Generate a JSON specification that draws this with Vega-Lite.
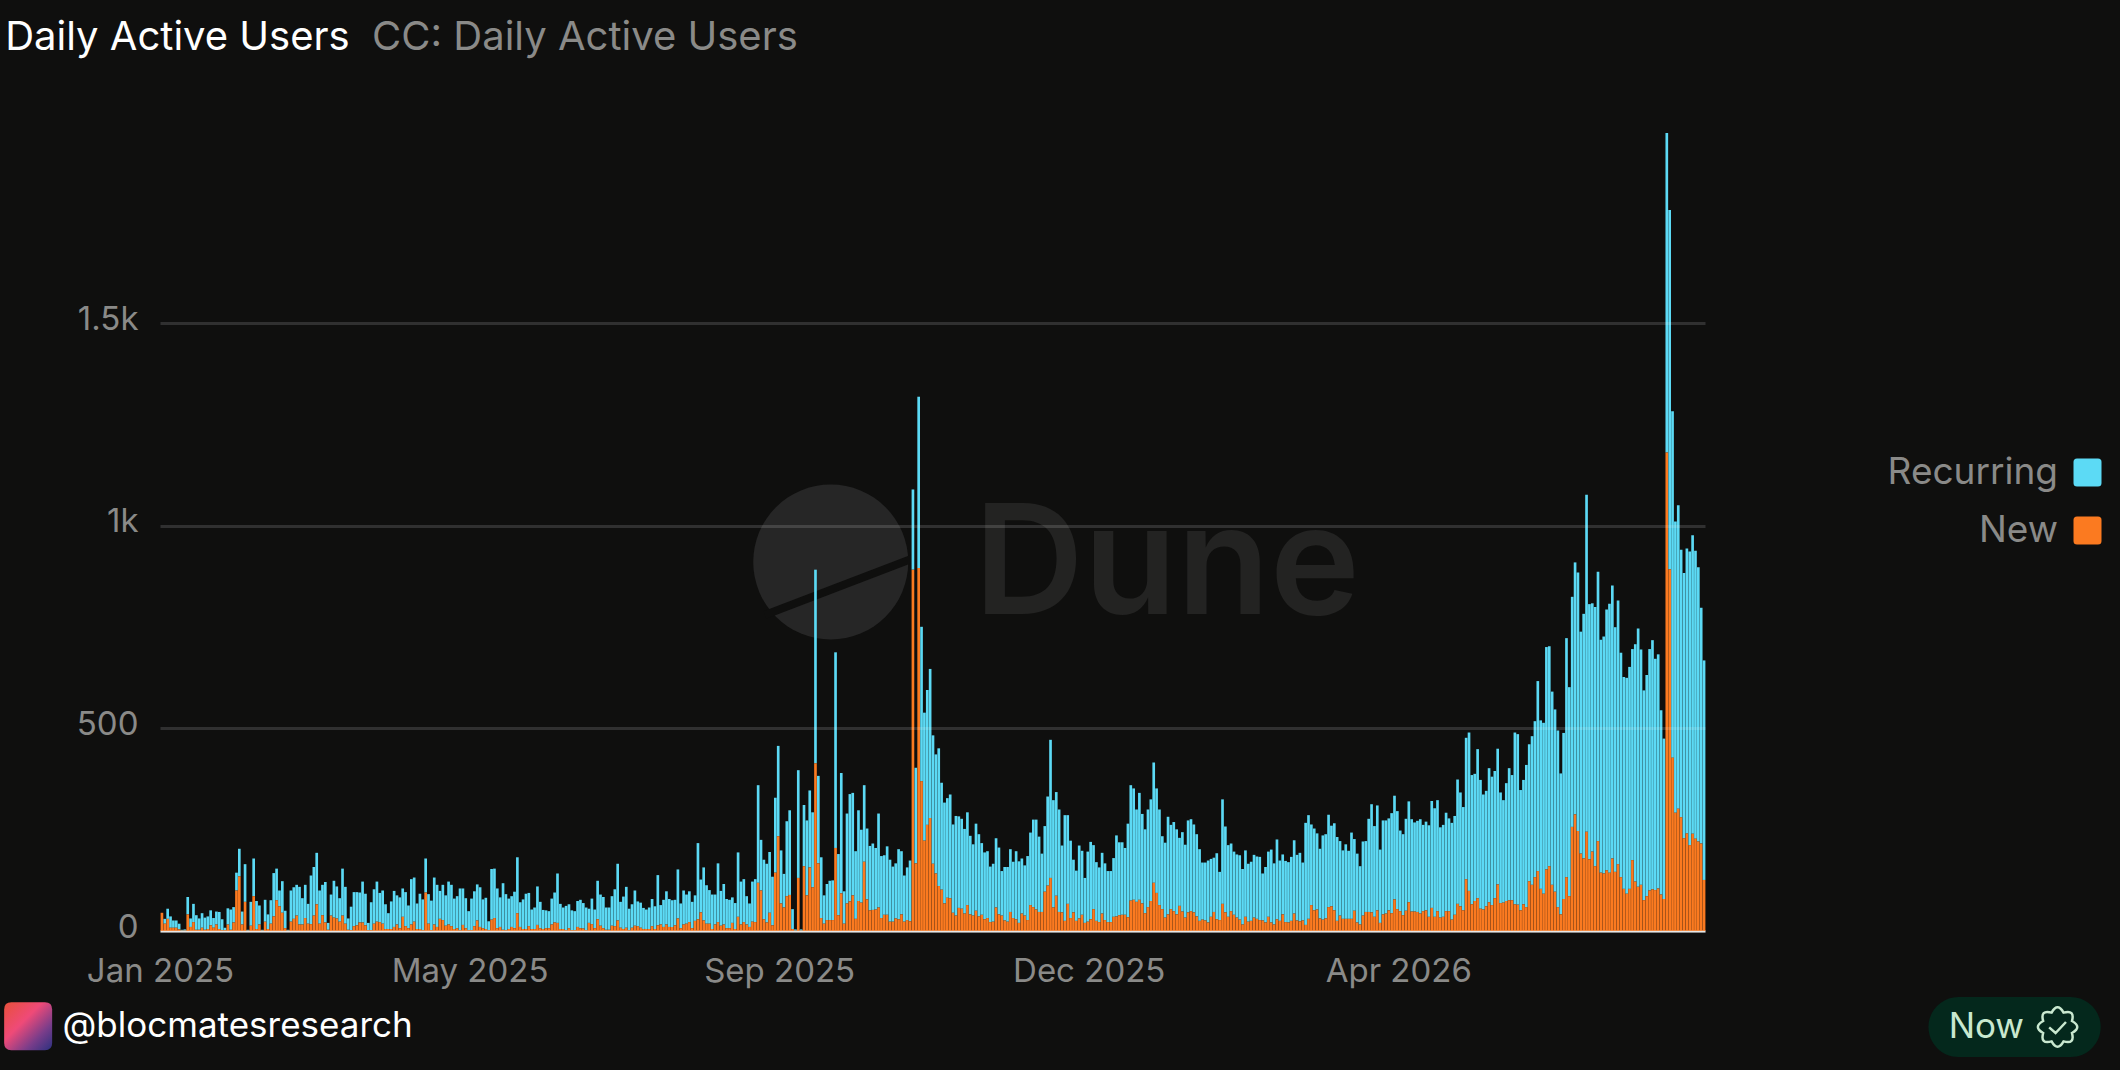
{
  "$schema": "https://vega.github.io/schema/vega-lite/v6.json",
  "width": 1545,
  "height": 800,
  "autosize": {"type": "none"},
  "padding": {"left": 160, "top": 131, "right": 415, "bottom": 139},
  "background": "#0f0f0e",
  "config": {"view": {"stroke": null}, "font": "Inter"},
  "datasets": {
    "daily": [
{"day":"2025-01-28","New":45,"Recurring":0},{"day":"2025-01-29","New":18,"Recurring":12},{"day":"2025-01-30","New":30,"Recurring":25},{"day":"2025-01-31","New":8,"Recurring":28},
{"day":"2025-02-01","New":8,"Recurring":18},{"day":"2025-02-02","New":8,"Recurring":18},{"day":"2025-02-03","New":4,"Recurring":14},{"day":"2025-02-04","New":1,"Recurring":2},{"day":"2025-02-05","New":1,"Recurring":3},{"day":"2025-02-06","New":41,"Recurring":43},{"day":"2025-02-07","New":10,"Recurring":21},{"day":"2025-02-08","New":22,"Recurring":45},{"day":"2025-02-09","New":3,"Recurring":36},{"day":"2025-02-10","New":3,"Recurring":28},{"day":"2025-02-11","New":8,"Recurring":36},{"day":"2025-02-12","New":3,"Recurring":30},{"day":"2025-02-13","New":5,"Recurring":31},{"day":"2025-02-14","New":14,"Recurring":37},{"day":"2025-02-15","New":8,"Recurring":24},{"day":"2025-02-16","New":16,"Recurring":32},{"day":"2025-02-17","New":5,"Recurring":42},{"day":"2025-02-18","New":2,"Recurring":27},{"day":"2025-02-19","New":2,"Recurring":6},{"day":"2025-02-20","New":16,"Recurring":40},{"day":"2025-02-21","New":3,"Recurring":50},{"day":"2025-02-22","New":21,"Recurring":38},{"day":"2025-02-23","New":100,"Recurring":44},{"day":"2025-02-24","New":135,"Recurring":68},{"day":"2025-02-25","New":16,"Recurring":32},{"day":"2025-02-26","New":72,"Recurring":93},{"day":"2025-02-27","New":1,"Recurring":2},{"day":"2025-02-28","New":13,"Recurring":59},
{"day":"2025-03-01","New":86,"Recurring":93},{"day":"2025-03-02","New":5,"Recurring":69},{"day":"2025-03-03","New":16,"Recurring":47},{"day":"2025-03-04","New":1,"Recurring":2},{"day":"2025-03-05","New":23,"Recurring":54},{"day":"2025-03-06","New":5,"Recurring":36},{"day":"2025-03-07","New":18,"Recurring":58},{"day":"2025-03-08","New":36,"Recurring":107},{"day":"2025-03-09","New":76,"Recurring":78},{"day":"2025-03-10","New":61,"Recurring":39},{"day":"2025-03-11","New":45,"Recurring":78},{"day":"2025-03-12","New":7,"Recurring":43},{"day":"2025-03-13","New":1,"Recurring":2},{"day":"2025-03-14","New":23,"Recurring":77},{"day":"2025-03-15","New":30,"Recurring":78},{"day":"2025-03-16","New":38,"Recurring":76},{"day":"2025-03-17","New":16,"Recurring":93},{"day":"2025-03-18","New":16,"Recurring":65},{"day":"2025-03-19","New":32,"Recurring":82},{"day":"2025-03-20","New":18,"Recurring":49},{"day":"2025-03-21","New":17,"Recurring":120},{"day":"2025-03-22","New":38,"Recurring":120},{"day":"2025-03-23","New":66,"Recurring":127},{"day":"2025-03-24","New":18,"Recurring":82},{"day":"2025-03-25","New":39,"Recurring":75},{"day":"2025-03-26","New":21,"Recurring":100},{"day":"2025-03-27","New":3,"Recurring":17},{"day":"2025-03-28","New":38,"Recurring":52},{"day":"2025-03-29","New":33,"Recurring":91},{"day":"2025-03-30","New":31,"Recurring":79},{"day":"2025-03-31","New":23,"Recurring":58},
{"day":"2025-04-01","New":38,"Recurring":116},{"day":"2025-04-02","New":18,"Recurring":91},{"day":"2025-04-03","New":3,"Recurring":28},{"day":"2025-04-04","New":2,"Recurring":58},{"day":"2025-04-05","New":12,"Recurring":84},{"day":"2025-04-06","New":14,"Recurring":82},{"day":"2025-04-07","New":21,"Recurring":74},{"day":"2025-04-08","New":21,"Recurring":101},{"day":"2025-04-09","New":14,"Recurring":78},{"day":"2025-04-10","New":2,"Recurring":18},{"day":"2025-04-11","New":2,"Recurring":69},{"day":"2025-04-12","New":18,"Recurring":85},{"day":"2025-04-13","New":23,"Recurring":99},{"day":"2025-04-14","New":22,"Recurring":72},{"day":"2025-04-15","New":18,"Recurring":82},{"day":"2025-04-16","New":5,"Recurring":61},{"day":"2025-04-17","New":5,"Recurring":39},{"day":"2025-04-18","New":5,"Recurring":68},{"day":"2025-04-19","New":10,"Recurring":89},{"day":"2025-04-20","New":16,"Recurring":72},{"day":"2025-04-21","New":7,"Recurring":76},{"day":"2025-04-22","New":35,"Recurring":70},{"day":"2025-04-23","New":12,"Recurring":84},{"day":"2025-04-24","New":7,"Recurring":56},{"day":"2025-04-25","New":16,"Recurring":112},{"day":"2025-04-26","New":23,"Recurring":109},{"day":"2025-04-27","New":5,"Recurring":63},{"day":"2025-04-28","New":5,"Recurring":87},{"day":"2025-04-29","New":2,"Recurring":76},{"day":"2025-04-30","New":95,"Recurring":84},
{"day":"2025-05-01","New":18,"Recurring":73},{"day":"2025-05-02","New":2,"Recurring":73},{"day":"2025-05-03","New":16,"Recurring":116},{"day":"2025-05-04","New":10,"Recurring":104},{"day":"2025-05-05","New":30,"Recurring":69},{"day":"2025-05-06","New":27,"Recurring":87},{"day":"2025-05-07","New":13,"Recurring":75},{"day":"2025-05-08","New":16,"Recurring":106},{"day":"2025-05-09","New":12,"Recurring":102},{"day":"2025-05-10","New":5,"Recurring":75},{"day":"2025-05-11","New":7,"Recurring":79},{"day":"2025-05-12","New":2,"Recurring":103},{"day":"2025-05-13","New":15,"Recurring":90},{"day":"2025-05-14","New":7,"Recurring":74},{"day":"2025-05-15","New":2,"Recurring":47},{"day":"2025-05-16","New":2,"Recurring":78},{"day":"2025-05-17","New":12,"Recurring":86},{"day":"2025-05-18","New":26,"Recurring":89},{"day":"2025-05-19","New":10,"Recurring":98},{"day":"2025-05-20","New":7,"Recurring":71},{"day":"2025-05-21","New":5,"Recurring":77},{"day":"2025-05-22","New":2,"Recurring":22},{"day":"2025-05-23","New":28,"Recurring":125},{"day":"2025-05-24","New":32,"Recurring":122},{"day":"2025-05-25","New":7,"Recurring":98},{"day":"2025-05-26","New":10,"Recurring":73},{"day":"2025-05-27","New":3,"Recurring":115},{"day":"2025-05-28","New":2,"Recurring":89},{"day":"2025-05-29","New":5,"Recurring":75},{"day":"2025-05-30","New":10,"Recurring":76},{"day":"2025-05-31","New":7,"Recurring":90},
{"day":"2025-06-01","New":44,"Recurring":138},{"day":"2025-06-02","New":10,"Recurring":61},{"day":"2025-06-03","New":5,"Recurring":73},{"day":"2025-06-04","New":5,"Recurring":87},{"day":"2025-06-05","New":12,"Recurring":82},{"day":"2025-06-06","New":5,"Recurring":48},{"day":"2025-06-07","New":5,"Recurring":53},{"day":"2025-06-08","New":15,"Recurring":95},{"day":"2025-06-09","New":7,"Recurring":65},{"day":"2025-06-10","New":5,"Recurring":47},{"day":"2025-06-11","New":7,"Recurring":44},{"day":"2025-06-12","New":7,"Recurring":42},{"day":"2025-06-13","New":16,"Recurring":64},{"day":"2025-06-14","New":21,"Recurring":74},{"day":"2025-06-15","New":20,"Recurring":122},{"day":"2025-06-16","New":5,"Recurring":62},{"day":"2025-06-17","New":5,"Recurring":53},{"day":"2025-06-18","New":2,"Recurring":60},{"day":"2025-06-19","New":7,"Recurring":59},{"day":"2025-06-20","New":2,"Recurring":49},{"day":"2025-06-21","New":2,"Recurring":47},{"day":"2025-06-22","New":10,"Recurring":64},{"day":"2025-06-23","New":7,"Recurring":70},{"day":"2025-06-24","New":6,"Recurring":63},{"day":"2025-06-25","New":2,"Recurring":56},{"day":"2025-06-26","New":20,"Recurring":35},{"day":"2025-06-27","New":17,"Recurring":63},{"day":"2025-06-28","New":7,"Recurring":46},{"day":"2025-06-29","New":29,"Recurring":95},{"day":"2025-06-30","New":13,"Recurring":77},
{"day":"2025-07-01","New":7,"Recurring":77},{"day":"2025-07-02","New":3,"Recurring":55},{"day":"2025-07-03","New":3,"Recurring":55},{"day":"2025-07-04","New":13,"Recurring":73},{"day":"2025-07-05","New":12,"Recurring":91},{"day":"2025-07-06","New":26,"Recurring":140},{"day":"2025-07-07","New":8,"Recurring":64},{"day":"2025-07-08","New":5,"Recurring":80},{"day":"2025-07-09","New":8,"Recurring":101},{"day":"2025-07-10","New":2,"Recurring":53},{"day":"2025-07-11","New":8,"Recurring":58},{"day":"2025-07-12","New":13,"Recurring":87},{"day":"2025-07-13","New":12,"Recurring":61},{"day":"2025-07-14","New":8,"Recurring":62},{"day":"2025-07-15","New":5,"Recurring":52},{"day":"2025-07-16","New":5,"Recurring":48},{"day":"2025-07-17","New":5,"Recurring":53},{"day":"2025-07-18","New":12,"Recurring":67},{"day":"2025-07-19","New":5,"Recurring":56},{"day":"2025-07-20","New":14,"Recurring":124},{"day":"2025-07-21","New":16,"Recurring":48},{"day":"2025-07-22","New":10,"Recurring":67},{"day":"2025-07-23","New":16,"Recurring":82},{"day":"2025-07-24","New":10,"Recurring":69},{"day":"2025-07-25","New":10,"Recurring":66},{"day":"2025-07-26","New":14,"Recurring":63},{"day":"2025-07-27","New":31,"Recurring":121},{"day":"2025-07-28","New":7,"Recurring":61},{"day":"2025-07-29","New":16,"Recurring":84},{"day":"2025-07-30","New":18,"Recurring":72},{"day":"2025-07-31","New":22,"Recurring":76},
{"day":"2025-08-01","New":7,"Recurring":65},{"day":"2025-08-02","New":25,"Recurring":63},{"day":"2025-08-03","New":29,"Recurring":188},{"day":"2025-08-04","New":46,"Recurring":81},{"day":"2025-08-05","New":26,"Recurring":131},{"day":"2025-08-06","New":18,"Recurring":95},{"day":"2025-08-07","New":18,"Recurring":83},{"day":"2025-08-08","New":5,"Recurring":85},{"day":"2025-08-09","New":16,"Recurring":74},{"day":"2025-08-10","New":22,"Recurring":145},{"day":"2025-08-11","New":13,"Recurring":86},{"day":"2025-08-12","New":16,"Recurring":100},{"day":"2025-08-13","New":7,"Recurring":72},{"day":"2025-08-14","New":7,"Recurring":70},{"day":"2025-08-15","New":20,"Recurring":63},{"day":"2025-08-16","New":5,"Recurring":64},{"day":"2025-08-17","New":35,"Recurring":159},{"day":"2025-08-18","New":16,"Recurring":106},{"day":"2025-08-19","New":22,"Recurring":106},{"day":"2025-08-20","New":16,"Recurring":70},{"day":"2025-08-21","New":10,"Recurring":58},{"day":"2025-08-22","New":23,"Recurring":99},{"day":"2025-08-23","New":22,"Recurring":106},{"day":"2025-08-24","New":119,"Recurring":241},{"day":"2025-08-25","New":100,"Recurring":125},{"day":"2025-08-26","New":29,"Recurring":147},{"day":"2025-08-27","New":21,"Recurring":145},{"day":"2025-08-28","New":45,"Recurring":150},{"day":"2025-08-29","New":14,"Recurring":120},{"day":"2025-08-30","New":144,"Recurring":185},{"day":"2025-08-31","New":234,"Recurring":223},
{"day":"2025-09-01","New":68,"Recurring":131},{"day":"2025-09-02","New":58,"Recurring":83},{"day":"2025-09-03","New":86,"Recurring":185},{"day":"2025-09-04","New":89,"Recurring":209},{"day":"2025-09-05","New":5,"Recurring":49},{"day":"2025-09-06","New":1,"Recurring":3},{"day":"2025-09-07","New":131,"Recurring":266},{"day":"2025-09-08","New":1,"Recurring":3},{"day":"2025-09-09","New":160,"Recurring":151},{"day":"2025-09-10","New":88,"Recurring":185},{"day":"2025-09-11","New":157,"Recurring":190},{"day":"2025-09-12","New":108,"Recurring":185},{"day":"2025-09-13","New":414,"Recurring":478},{"day":"2025-09-14","New":167,"Recurring":216},{"day":"2025-09-15","New":32,"Recurring":150},{"day":"2025-09-16","New":18,"Recurring":70},{"day":"2025-09-17","New":27,"Recurring":89},{"day":"2025-09-18","New":27,"Recurring":97},{"day":"2025-09-19","New":27,"Recurring":98},{"day":"2025-09-20","New":205,"Recurring":483},{"day":"2025-09-21","New":39,"Recurring":151},{"day":"2025-09-22","New":93,"Recurring":297},{"day":"2025-09-23","New":18,"Recurring":80},{"day":"2025-09-24","New":68,"Recurring":222},{"day":"2025-09-25","New":73,"Recurring":265},{"day":"2025-09-26","New":88,"Recurring":253},{"day":"2025-09-27","New":30,"Recurring":167},{"day":"2025-09-28","New":74,"Recurring":224},{"day":"2025-09-29","New":70,"Recurring":180},{"day":"2025-09-30","New":171,"Recurring":189},
{"day":"2025-10-01","New":78,"Recurring":175},{"day":"2025-10-02","New":51,"Recurring":159},{"day":"2025-10-03","New":52,"Recurring":164},{"day":"2025-10-04","New":53,"Recurring":152},{"day":"2025-10-05","New":58,"Recurring":232},{"day":"2025-10-06","New":32,"Recurring":153},{"day":"2025-10-07","New":40,"Recurring":147},{"day":"2025-10-08","New":40,"Recurring":169},{"day":"2025-10-09","New":23,"Recurring":153},{"day":"2025-10-10","New":23,"Recurring":136},{"day":"2025-10-11","New":31,"Recurring":136},{"day":"2025-10-12","New":29,"Recurring":173},{"day":"2025-10-13","New":41,"Recurring":156},{"day":"2025-10-14","New":23,"Recurring":114},{"day":"2025-10-15","New":27,"Recurring":130},{"day":"2025-10-16","New":24,"Recurring":150},{"day":"2025-10-17","New":892,"Recurring":198},{"day":"2025-10-18","New":167,"Recurring":236},{"day":"2025-10-19","New":896,"Recurring":423},{"day":"2025-10-20","New":370,"Recurring":381},{"day":"2025-10-21","New":223,"Recurring":316},{"day":"2025-10-22","New":262,"Recurring":333},{"day":"2025-10-23","New":279,"Recurring":368},{"day":"2025-10-24","New":166,"Recurring":317},{"day":"2025-10-25","New":142,"Recurring":294},{"day":"2025-10-26","New":111,"Recurring":340},{"day":"2025-10-27","New":102,"Recurring":264},{"day":"2025-10-28","New":68,"Recurring":249},{"day":"2025-10-29","New":82,"Recurring":246},{"day":"2025-10-30","New":81,"Recurring":256},{"day":"2025-10-31","New":45,"Recurring":218},
{"day":"2025-11-01","New":38,"Recurring":246},{"day":"2025-11-02","New":57,"Recurring":226},{"day":"2025-11-03","New":55,"Recurring":222},{"day":"2025-11-04","New":43,"Recurring":209},{"day":"2025-11-05","New":64,"Recurring":229},{"day":"2025-11-06","New":41,"Recurring":194},{"day":"2025-11-07","New":38,"Recurring":176},{"day":"2025-11-08","New":50,"Recurring":215},{"day":"2025-11-09","New":36,"Recurring":203},{"day":"2025-11-10","New":40,"Recurring":177},{"day":"2025-11-11","New":29,"Recurring":165},{"day":"2025-11-12","New":32,"Recurring":165},{"day":"2025-11-13","New":22,"Recurring":137},{"day":"2025-11-14","New":23,"Recurring":143},{"day":"2025-11-15","New":58,"Recurring":171},{"day":"2025-11-16","New":41,"Recurring":165},{"day":"2025-11-17","New":38,"Recurring":110},{"day":"2025-11-18","New":26,"Recurring":132},{"day":"2025-11-19","New":23,"Recurring":135},{"day":"2025-11-20","New":47,"Recurring":155},{"day":"2025-11-21","New":32,"Recurring":139},{"day":"2025-11-22","New":29,"Recurring":168},{"day":"2025-11-23","New":20,"Recurring":152},{"day":"2025-11-24","New":43,"Recurring":136},{"day":"2025-11-25","New":38,"Recurring":124},{"day":"2025-11-26","New":27,"Recurring":158},{"day":"2025-11-27","New":64,"Recurring":179},{"day":"2025-11-28","New":59,"Recurring":216},{"day":"2025-11-29","New":53,"Recurring":222},{"day":"2025-11-30","New":47,"Recurring":186},
{"day":"2025-12-01","New":47,"Recurring":144},{"day":"2025-12-02","New":97,"Recurring":162},{"day":"2025-12-03","New":112,"Recurring":220},{"day":"2025-12-04","New":131,"Recurring":341},{"day":"2025-12-05","New":58,"Recurring":265},{"day":"2025-12-06","New":87,"Recurring":256},{"day":"2025-12-07","New":47,"Recurring":253},{"day":"2025-12-08","New":46,"Recurring":165},{"day":"2025-12-09","New":25,"Recurring":261},{"day":"2025-12-10","New":67,"Recurring":219},{"day":"2025-12-11","New":32,"Recurring":191},{"day":"2025-12-12","New":46,"Recurring":130},{"day":"2025-12-13","New":25,"Recurring":124},{"day":"2025-12-14","New":31,"Recurring":180},{"day":"2025-12-15","New":40,"Recurring":158},{"day":"2025-12-16","New":20,"Recurring":111},{"day":"2025-12-17","New":23,"Recurring":173},{"day":"2025-12-18","New":29,"Recurring":191},{"day":"2025-12-19","New":54,"Recurring":158},{"day":"2025-12-20","New":25,"Recurring":145},{"day":"2025-12-21","New":22,"Recurring":135},{"day":"2025-12-22","New":43,"Recurring":150},{"day":"2025-12-23","New":27,"Recurring":140},{"day":"2025-12-24","New":22,"Recurring":126},{"day":"2025-12-25","New":22,"Recurring":126},{"day":"2025-12-26","New":35,"Recurring":145},{"day":"2025-12-27","New":36,"Recurring":200},{"day":"2025-12-28","New":39,"Recurring":180},{"day":"2025-12-29","New":40,"Recurring":179},{"day":"2025-12-30","New":40,"Recurring":165},{"day":"2025-12-31","New":34,"Recurring":231},
{"day":"2026-01-01","New":75,"Recurring":285},{"day":"2026-01-02","New":77,"Recurring":275},{"day":"2026-01-03","New":72,"Recurring":228},{"day":"2026-01-04","New":77,"Recurring":264},{"day":"2026-01-05","New":68,"Recurring":221},{"day":"2026-01-06","New":44,"Recurring":207},{"day":"2026-01-07","New":59,"Recurring":241},{"day":"2026-01-08","New":74,"Recurring":251},{"day":"2026-01-09","New":119,"Recurring":297},{"day":"2026-01-10","New":94,"Recurring":258},{"day":"2026-01-11","New":64,"Recurring":236},{"day":"2026-01-12","New":54,"Recurring":180},{"day":"2026-01-13","New":33,"Recurring":185},{"day":"2026-01-14","New":41,"Recurring":241},{"day":"2026-01-15","New":54,"Recurring":208},{"day":"2026-01-16","New":49,"Recurring":220},{"day":"2026-01-17","New":41,"Recurring":210},{"day":"2026-01-18","New":62,"Recurring":168},{"day":"2026-01-19","New":48,"Recurring":196},{"day":"2026-01-20","New":33,"Recurring":180},{"day":"2026-01-21","New":46,"Recurring":227},{"day":"2026-01-22","New":49,"Recurring":227},{"day":"2026-01-23","New":46,"Recurring":217},{"day":"2026-01-24","New":36,"Recurring":203},{"day":"2026-01-25","New":25,"Recurring":177},{"day":"2026-01-26","New":28,"Recurring":141},{"day":"2026-01-27","New":26,"Recurring":143},{"day":"2026-01-28","New":21,"Recurring":153},{"day":"2026-01-29","New":35,"Recurring":143},{"day":"2026-01-30","New":47,"Recurring":134},{"day":"2026-01-31","New":29,"Recurring":163},
{"day":"2026-02-01","New":27,"Recurring":119},{"day":"2026-02-02","New":67,"Recurring":258},{"day":"2026-02-03","New":46,"Recurring":212},{"day":"2026-02-04","New":35,"Recurring":177},{"day":"2026-02-05","New":49,"Recurring":167},{"day":"2026-02-06","New":40,"Recurring":156},{"day":"2026-02-07","New":33,"Recurring":156},{"day":"2026-02-08","New":28,"Recurring":159},{"day":"2026-02-09","New":16,"Recurring":137},{"day":"2026-02-10","New":35,"Recurring":164},{"day":"2026-02-11","New":23,"Recurring":143},{"day":"2026-02-12","New":25,"Recurring":146},{"day":"2026-02-13","New":33,"Recurring":155},{"day":"2026-02-14","New":30,"Recurring":154},{"day":"2026-02-15","New":27,"Recurring":156},{"day":"2026-02-16","New":26,"Recurring":116},{"day":"2026-02-17","New":21,"Recurring":137},{"day":"2026-02-18","New":35,"Recurring":161},{"day":"2026-02-19","New":21,"Recurring":180},{"day":"2026-02-20","New":16,"Recurring":151},{"day":"2026-02-21","New":29,"Recurring":197},{"day":"2026-02-22","New":25,"Recurring":149},{"day":"2026-02-23","New":41,"Recurring":148},{"day":"2026-02-24","New":22,"Recurring":151},{"day":"2026-02-25","New":21,"Recurring":149},{"day":"2026-02-26","New":25,"Recurring":158},{"day":"2026-02-27","New":43,"Recurring":181},{"day":"2026-02-28","New":26,"Recurring":162},
{"day":"2026-03-01","New":24,"Recurring":169},{"day":"2026-03-02","New":26,"Recurring":143},{"day":"2026-03-03","New":15,"Recurring":252},{"day":"2026-03-04","New":30,"Recurring":256},{"day":"2026-03-05","New":64,"Recurring":199},{"day":"2026-03-06","New":51,"Recurring":202},{"day":"2026-03-07","New":53,"Recurring":188},{"day":"2026-03-08","New":31,"Recurring":172},{"day":"2026-03-09","New":28,"Recurring":208},{"day":"2026-03-10","New":31,"Recurring":208},{"day":"2026-03-11","New":59,"Recurring":228},{"day":"2026-03-12","New":61,"Recurring":199},{"day":"2026-03-13","New":51,"Recurring":215},{"day":"2026-03-14","New":25,"Recurring":207},{"day":"2026-03-15","New":38,"Recurring":184},{"day":"2026-03-16","New":30,"Recurring":169},{"day":"2026-03-17","New":30,"Recurring":184},{"day":"2026-03-18","New":30,"Recurring":168},{"day":"2026-03-19","New":30,"Recurring":213},{"day":"2026-03-20","New":50,"Recurring":177},{"day":"2026-03-21","New":21,"Recurring":170},{"day":"2026-03-22","New":16,"Recurring":144},{"day":"2026-03-23","New":38,"Recurring":183},{"day":"2026-03-24","New":47,"Recurring":175},{"day":"2026-03-25","New":47,"Recurring":230},{"day":"2026-03-26","New":46,"Recurring":267},{"day":"2026-03-27","New":35,"Recurring":224},{"day":"2026-03-28","New":51,"Recurring":259},{"day":"2026-03-29","New":20,"Recurring":181},{"day":"2026-03-30","New":41,"Recurring":232},{"day":"2026-03-31","New":43,"Recurring":230},
{"day":"2026-04-01","New":51,"Recurring":227},{"day":"2026-04-02","New":44,"Recurring":247},{"day":"2026-04-03","New":78,"Recurring":256},{"day":"2026-04-04","New":54,"Recurring":242},{"day":"2026-04-05","New":49,"Recurring":199},{"day":"2026-04-06","New":39,"Recurring":200},{"day":"2026-04-07","New":50,"Recurring":227},{"day":"2026-04-08","New":71,"Recurring":249},{"day":"2026-04-09","New":48,"Recurring":228},{"day":"2026-04-10","New":48,"Recurring":220},{"day":"2026-04-11","New":47,"Recurring":225},{"day":"2026-04-12","New":43,"Recurring":233},{"day":"2026-04-13","New":49,"Recurring":213},{"day":"2026-04-14","New":51,"Recurring":219},{"day":"2026-04-15","New":35,"Recurring":226},{"day":"2026-04-16","New":57,"Recurring":264},{"day":"2026-04-17","New":35,"Recurring":268},{"day":"2026-04-18","New":49,"Recurring":274},{"day":"2026-04-19","New":33,"Recurring":223},{"day":"2026-04-20","New":35,"Recurring":227},{"day":"2026-04-21","New":49,"Recurring":243},{"day":"2026-04-22","New":49,"Recurring":229},{"day":"2026-04-23","New":28,"Recurring":239},{"day":"2026-04-24","New":40,"Recurring":244},{"day":"2026-04-25","New":67,"Recurring":307},{"day":"2026-04-26","New":61,"Recurring":281},{"day":"2026-04-27","New":51,"Recurring":255},{"day":"2026-04-28","New":128,"Recurring":349},{"day":"2026-04-29","New":99,"Recurring":391},{"day":"2026-04-30","New":66,"Recurring":319},
{"day":"2026-05-01","New":74,"Recurring":314},{"day":"2026-05-02","New":81,"Recurring":368},{"day":"2026-05-03","New":55,"Recurring":318},{"day":"2026-05-04","New":53,"Recurring":284},{"day":"2026-05-05","New":61,"Recurring":285},{"day":"2026-05-06","New":71,"Recurring":331},{"day":"2026-05-07","New":64,"Recurring":317},{"day":"2026-05-08","New":81,"Recurring":314},{"day":"2026-05-09","New":115,"Recurring":335},{"day":"2026-05-10","New":69,"Recurring":273},{"day":"2026-05-11","New":70,"Recurring":253},{"day":"2026-05-12","New":74,"Recurring":291},{"day":"2026-05-13","New":76,"Recurring":326},{"day":"2026-05-14","New":76,"Recurring":309},{"day":"2026-05-15","New":66,"Recurring":424},{"day":"2026-05-16","New":65,"Recurring":421},{"day":"2026-05-17","New":51,"Recurring":297},{"day":"2026-05-18","New":66,"Recurring":307},{"day":"2026-05-19","New":59,"Recurring":351},{"day":"2026-05-20","New":123,"Recurring":338},{"day":"2026-05-21","New":114,"Recurring":367},{"day":"2026-05-22","New":133,"Recurring":385},{"day":"2026-05-23","New":148,"Recurring":469},{"day":"2026-05-24","New":104,"Recurring":416},{"day":"2026-05-25","New":92,"Recurring":422},{"day":"2026-05-26","New":152,"Recurring":549},{"day":"2026-05-27","New":160,"Recurring":543},{"day":"2026-05-28","New":114,"Recurring":477},{"day":"2026-05-29","New":97,"Recurring":450},{"day":"2026-05-30","New":59,"Recurring":436},{"day":"2026-05-31","New":41,"Recurring":348},
{"day":"2026-06-01","New":79,"Recurring":410},{"day":"2026-06-02","New":133,"Recurring":590},{"day":"2026-06-03","New":86,"Recurring":516},{"day":"2026-06-04","New":257,"Recurring":568},{"day":"2026-06-05","New":288,"Recurring":622},{"day":"2026-06-06","New":247,"Recurring":638},{"day":"2026-06-07","New":191,"Recurring":548},{"day":"2026-06-08","New":179,"Recurring":604},{"day":"2026-06-09","New":245,"Recurring":832},{"day":"2026-06-10","New":177,"Recurring":630},{"day":"2026-06-11","New":196,"Recurring":613},{"day":"2026-06-12","New":160,"Recurring":640},{"day":"2026-06-13","New":222,"Recurring":665},{"day":"2026-06-14","New":144,"Recurring":575},{"day":"2026-06-15","New":142,"Recurring":585},{"day":"2026-06-16","New":150,"Recurring":644},{"day":"2026-06-17","New":144,"Recurring":664},{"day":"2026-06-18","New":179,"Recurring":674},{"day":"2026-06-19","New":146,"Recurring":604},{"day":"2026-06-20","New":165,"Recurring":651},{"day":"2026-06-21","New":133,"Recurring":554},{"day":"2026-06-22","New":104,"Recurring":523},{"day":"2026-06-23","New":92,"Recurring":533},{"day":"2026-06-24","New":104,"Recurring":548},{"day":"2026-06-25","New":175,"Recurring":521},{"day":"2026-06-26","New":122,"Recurring":586},{"day":"2026-06-27","New":109,"Recurring":638},{"day":"2026-06-28","New":114,"Recurring":581},{"day":"2026-06-29","New":76,"Recurring":518},{"day":"2026-06-30","New":86,"Recurring":546},
{"day":"2026-07-01","New":100,"Recurring":596},{"day":"2026-07-02","New":103,"Recurring":615},{"day":"2026-07-03","New":101,"Recurring":571},{"day":"2026-07-04","New":105,"Recurring":578},{"day":"2026-07-05","New":90,"Recurring":455},{"day":"2026-07-06","New":79,"Recurring":396},{"day":"2026-07-07","New":1181,"Recurring":789},{"day":"2026-07-08","New":893,"Recurring":887},{"day":"2026-07-09","New":428,"Recurring":855},{"day":"2026-07-10","New":292,"Recurring":719},{"day":"2026-07-11","New":302,"Recurring":749},{"day":"2026-07-12","New":281,"Recurring":660},{"day":"2026-07-13","New":229,"Recurring":655},{"day":"2026-07-14","New":241,"Recurring":703},{"day":"2026-07-15","New":212,"Recurring":725},{"day":"2026-07-16","New":240,"Recurring":737},{"day":"2026-07-17","New":228,"Recurring":711},{"day":"2026-07-18","New":221,"Recurring":677},{"day":"2026-07-19","New":216,"Recurring":582},{"day":"2026-07-20","New":126,"Recurring":542}
    ]
  },
  "data": {"name": "daily"},
  "layer": [
    {
      "data": {"values": [{"day": "2025-09-19", "users": 911}]},
      "mark": {"type": "point", "filled": true, "shape": "circle", "size": 24025, "color": "#262626", "opacity": 1},
      "encoding": {"x": {"field": "day", "type": "temporal"}, "y": {"field": "users", "type": "quantitative"}}
    },
    {
      "data": {"values": [{"from": "2025-08-27", "to": "2025-10-18", "low": 780, "high": 921}]},
      "mark": {"type": "rule", "color": "#0f0f0e", "strokeWidth": 8},
      "encoding": {
        "x": {"field": "from", "type": "temporal"}, "x2": {"field": "to"},
        "y": {"field": "low", "type": "quantitative"}, "y2": {"field": "high"}
      }
    },
    {
      "data": {"values": [{"day": "2025-11-08", "users": 896, "label": "Dune"}]},
      "mark": {"type": "text", "align": "left", "baseline": "middle", "fontSize": 152, "fontWeight": 600, "color": "#232322", "font": "Inter"},
      "encoding": {"x": {"field": "day", "type": "temporal"}, "y": {"field": "users", "type": "quantitative"}, "text": {"field": "label"}}
    },
    {
      "transform": [{"fold": ["Recurring", "New"], "as": ["kind", "users"]}],
      "mark": {"type": "bar", "binSpacing": 0.2},
      "encoding": {
        "x": {
          "field": "day", "type": "temporal", "timeUnit": "utcyearmonthdate", "title": null,
          "scale": {"type": "utc", "domain": [{"year": 2025, "month": 1, "date": 28, "utc": true}, {"year": 2026, "month": 7, "date": 21, "utc": true}]},
          "axis": {
            "values": ["2025-01-28", "2025-05-16", "2025-09-01", "2025-12-18", "2026-04-05"],
            "labelExpr": "utcFormat(datum.value, '%b %Y')", "grid": false, "ticks": false,
            "domainColor": "#e4e4e2", "domainWidth": 2, "labelColor": "#8a8a88", "labelFontSize": 33, "labelFont": "Inter",
            "labelPadding": 24, "labelOverlap": false, "labelFlush": false, "labelBound": false, "labelLimit": 400
          }
        },
        "y": {
          "field": "users", "type": "quantitative", "title": null, "stack": "zero",
          "scale": {"domain": [0, 1975], "nice": false},
          "axis": {
            "values": [0, 500, 1000, 1500], "grid": true, "gridColor": "#ffffff", "gridOpacity": 0.14, "gridWidth": 3,
            "ticks": false, "domain": false, "labelExpr": "datum.value >= 1000 ? datum.value / 1000 + 'k' : datum.value",
            "labelColor": "#8a8a88", "labelFontSize": 33, "labelFont": "Inter", "labelPadding": 22, "labelOffset": -4, "zindex": 1
          }
        },
        "color": {
          "field": "kind", "type": "nominal", "title": null,
          "scale": {"domain": ["Recurring", "New"], "range": ["#5cdaf5", "#fb7a20"]},
          "legend": {
            "orient": "none", "legendX": 1909, "legendY": 323, "rowPadding": 20,
            "symbolType": "M-0.75,-1 H0.75 Q1,-1 1,-0.75 V0.75 Q1,1 0.75,1 H-0.75 Q-1,1 -1,0.75 V-0.75 Q-1,-1 -0.75,-1 Z",
            "symbolSize": 784, "symbolStrokeWidth": 0, "symbolOpacity": 1,
            "labelAlign": "right", "labelOffset": -48, "labelColor": "#8a8a88", "labelFontSize": 37, "labelFont": "Inter", "labelLimit": 400
          }
        },
        "order": {"field": "kind", "sort": "ascending"}
      }
    },
    {
      "data": {"values": [{"day": "2024-12-05", "users": 2205, "label": "Daily Active Users"}]},
      "mark": {"type": "text", "align": "left", "baseline": "middle", "fontSize": 40, "font": "Inter", "color": "#ffffff"},
      "encoding": {"x": {"field": "day", "type": "temporal"}, "y": {"field": "users", "type": "quantitative"}, "text": {"field": "label"}}
    },
    {
      "data": {"values": [{"day": "2025-04-12", "users": 2205, "label": "CC: Daily Active Users"}]},
      "mark": {"type": "text", "align": "left", "baseline": "middle", "fontSize": 40, "font": "Inter", "color": "#8a8a88"},
      "encoding": {"x": {"field": "day", "type": "temporal"}, "y": {"field": "users", "type": "quantitative"}, "text": {"field": "label"}}
    },
    {
      "data": {"values": [{"day": "2024-12-25", "users": -235, "label": "@blocmatesresearch"}]},
      "mark": {"type": "text", "align": "left", "baseline": "middle", "fontSize": 35, "font": "Inter", "color": "#ffffff"},
      "encoding": {"x": {"field": "day", "type": "temporal"}, "y": {"field": "users", "type": "quantitative"}, "text": {"field": "label"}}
    },
    {
      "data": {"values": [{"day": "2024-12-13", "users": -235}]},
      "mark": {
        "type": "point", "filled": true, "size": 2304, "opacity": 1,
        "shape": "M-0.7,-1 H0.7 Q1,-1 1,-0.7 V0.7 Q1,1 0.7,1 H-0.7 Q-1,1 -1,0.7 V-0.7 Q-1,-1 -0.7,-1 Z",
        "fill": {"gradient": "linear", "x1": 0, "y1": 0, "x2": 1, "y2": 1, "stops": [
          {"offset": 0, "color": "#e8503a"}, {"offset": 0.4, "color": "#ef4a78"}, {"offset": 0.72, "color": "#7a3d8a"}, {"offset": 1, "color": "#2b3180"}
        ]}
      },
      "encoding": {"x": {"field": "day", "type": "temporal"}, "y": {"field": "users", "type": "quantitative"}}
    },
    {
      "data": {"values": [{"day": "2026-11-06", "users": -237}]},
      "mark": {"type": "point", "filled": true, "size": 3600, "color": "#04281c", "opacity": 1, "shape": "M-1.87,-1 H1.87 A1,1 0 0 1 1.87,1 H-1.87 A1,1 0 0 1 -1.87,-1 Z"},
      "encoding": {"x": {"field": "day", "type": "temporal"}, "y": {"field": "users", "type": "quantitative"}}
    },
    {
      "data": {"values": [{"day": "2026-10-14", "users": -237, "label": "Now"}]},
      "mark": {"type": "text", "align": "left", "baseline": "middle", "fontSize": 35, "font": "Inter", "color": "#c9e8cf"},
      "encoding": {"x": {"field": "day", "type": "temporal"}, "y": {"field": "users", "type": "quantitative"}, "text": {"field": "label"}}
    },
    {
      "data": {"values": [{"day": "2026-11-21", "users": -237}]},
      "mark": {
        "type": "point", "filled": false, "size": 1600, "stroke": "#c9e8cf", "strokeWidth": 2.5, "opacity": 1,
        "shape": "M.72,-.30 Q1.25,0 .72,.30 Q.88,.88 .30,.72 Q0,1.25 -.30,.72 Q-.88,.88 -.72,.30 Q-1.25,0 -.72,-.30 Q-.88,-.88 -.30,-.72 Q0,-1.25 .30,-.72 Q.88,-.88 .72,-.30 Z M-.42,.02 L-.1,.3 L.42,-.25"
      },
      "encoding": {"x": {"field": "day", "type": "temporal"}, "y": {"field": "users", "type": "quantitative"}}
    }
  ]
}
